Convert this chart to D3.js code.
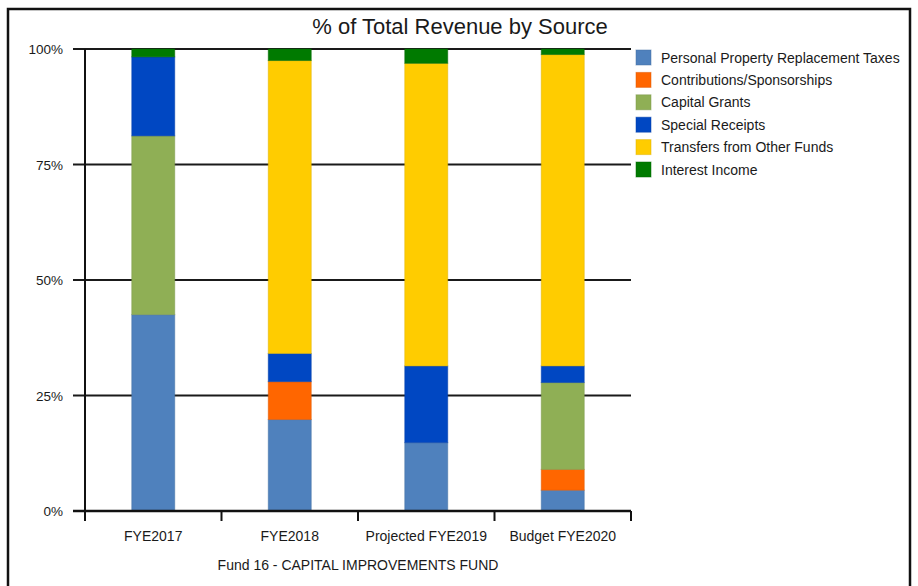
<!DOCTYPE html>
<html>
<head>
<meta charset="utf-8">
<script src="https://cdn.jsdelivr.net/npm/d3@7"></script>
<style>
  html, body { margin: 0; padding: 0; background: #fff; }
  svg { display: block; font-family: "Liberation Sans", Arial, sans-serif; }
</style>
</head>
<body>
<svg id="chart" width="918" height="586"></svg>
<script>
// Fiscal years on the x axis
const categories = ["FYE2017", "FYE2018", "Projected FYE2019", "Budget FYE2020"];

// Revenue sources, stacked bottom to top
const seriesNames = [
  "Personal Property Replacement Taxes",
  "Contributions/Sponsorships",
  "Capital Grants",
  "Special Receipts",
  "Transfers from Other Funds",
  "Interest Income"
];
const seriesColors = ["#4f81bd", "#ff6600", "#8faf55", "#0047c2", "#ffcc00", "#007a00"];

// Share of total revenue (%) per source, one value per fiscal year
const personalProperty = [42.5, 19.8, 14.8, 4.5];
const contributions    = [0.0, 8.2, 0.0, 4.5];
const capitalGrants    = [38.7, 0.0, 0.0, 18.8];
const specialReceipts  = [17.1, 6.1, 16.6, 3.6];
const transfers        = [0.0, 63.4, 65.5, 67.4];
const interestIncome   = [1.7, 2.5, 3.1, 1.2];

const yTicks = [0, 25, 50, 75, 100];
const yTickLabels = ["0%", "25%", "50%", "75%", "100%"];

const title = "% of Total Revenue by Source";
const subtitle = "Fund 16 - CAPITAL IMPROVEMENTS FUND";

const seriesValues = [personalProperty, contributions, capitalGrants, specialReceipts, transfers, interestIncome];
const rows = categories.map((c, i) => {
  const r = { category: c };
  seriesNames.forEach((s, j) => { r[s] = seriesValues[j][i]; });
  return r;
});

const svg = d3.select("#chart");
const textColor = "#1a1a1a";

// outer frame
svg.append("path")
  .attr("d", "M8,600 L8,9 L910,9 L910,600")
  .attr("fill", "none").attr("stroke", "#111").attr("stroke-width", 2.5);

const plot = { left: 85, right: 631, top: 49, bottom: 511 };

const x = d3.scaleBand().domain(categories).range([plot.left, plot.right]).paddingInner(0).paddingOuter(0);
const y = d3.scaleLinear().domain([0, 100]).range([plot.bottom, plot.top]);
const color = d3.scaleOrdinal().domain(seriesNames).range(seriesColors);

// title
svg.append("text")
  .attr("x", 460).attr("y", 34)
  .attr("text-anchor", "middle")
  .attr("font-size", 22).attr("fill", textColor)
  .text(title);

// horizontal gridlines with tick stubs
svg.append("g").selectAll("line").data(yTicks).join("line")
  .attr("x1", plot.left - 12).attr("x2", plot.right)
  .attr("y1", d => y(d)).attr("y2", d => y(d))
  .attr("stroke", "#1a1a1a").attr("stroke-width", 2);

svg.append("g").selectAll("text").data(yTicks).join("text")
  .attr("x", 63).attr("y", d => y(d) + 5)
  .attr("text-anchor", "end").attr("font-size", 13.5).attr("fill", textColor)
  .text((d, i) => yTickLabels[i]);

// stacked bars
const stack = d3.stack().keys(seriesNames);
const layers = stack(rows);
const barW = x.bandwidth() * 0.315;

svg.append("g").selectAll("g").data(layers).join("g")
  .attr("fill", d => color(d.key))
  .selectAll("rect").data(d => d.filter(p => p[1] - p[0] > 0)).join("rect")
  .attr("x", d => x(d.data.category) + (x.bandwidth() - barW) / 2)
  .attr("width", barW)
  .attr("y", d => y(d[1]))
  .attr("height", d => y(d[0]) - y(d[1]))
  .attr("stroke", function() { return d3.color(d3.select(this.parentNode).attr("fill")).darker(0.4); })
  .attr("stroke-opacity", 0.5)
  .attr("stroke-width", 1);

// y axis line
svg.append("line")
  .attr("x1", plot.left).attr("x2", plot.left)
  .attr("y1", plot.top).attr("y2", plot.bottom + 10)
  .attr("stroke", "#111").attr("stroke-width", 2);

// x axis line and category boundary ticks
svg.append("line")
  .attr("x1", plot.left - 12).attr("x2", plot.right)
  .attr("y1", plot.bottom).attr("y2", plot.bottom)
  .attr("stroke", "#111").attr("stroke-width", 2.5);

const boundaries = categories.map(c => x(c)).concat([x(categories[categories.length - 1]) + x.bandwidth()]);
svg.append("g").selectAll("line").data(boundaries).join("line")
  .attr("x1", d => d).attr("x2", d => d)
  .attr("y1", plot.bottom).attr("y2", plot.bottom + 10)
  .attr("stroke", "#111").attr("stroke-width", 2);

svg.append("g").selectAll("text").data(categories).join("text")
  .attr("x", d => x(d) + x.bandwidth() / 2)
  .attr("y", 541)
  .attr("text-anchor", "middle").attr("font-size", 14).attr("fill", textColor)
  .text(d => d);

svg.append("text")
  .attr("x", 358).attr("y", 570)
  .attr("text-anchor", "middle").attr("font-size", 14).attr("fill", textColor)
  .text(subtitle);

// legend
const legend = svg.append("g").attr("transform", "translate(636,50)");
const items = legend.selectAll("g").data(seriesNames).join("g")
  .attr("transform", (d, i) => `translate(0,${i * 22.4})`);
items.append("rect")
  .attr("width", 15).attr("height", 15)
  .attr("fill", d => color(d))
  .attr("stroke", d => d3.color(color(d)).darker(0.4)).attr("stroke-opacity", 0.5);
items.append("text")
  .attr("x", 25).attr("y", 12.5)
  .attr("font-size", 14).attr("fill", textColor)
  .text(d => d);
</script>
</body>
</html>
